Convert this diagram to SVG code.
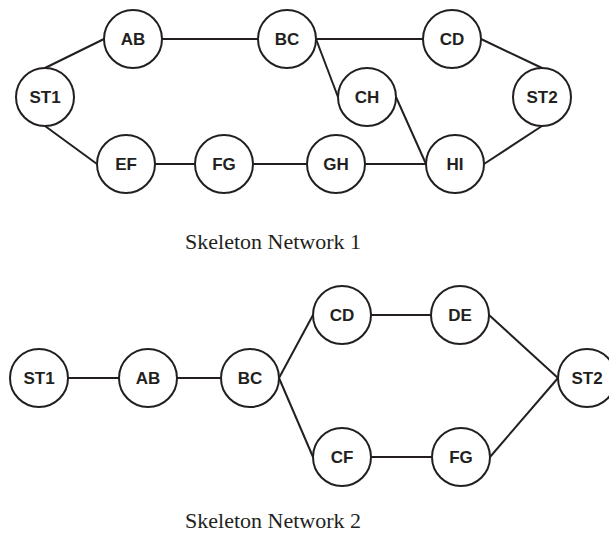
<svg xmlns="http://www.w3.org/2000/svg" width="609" height="534" viewBox="0 0 609 534">
<style>
.n circle{fill:#fff;stroke:#231f20;stroke-width:2}
.n text{font-family:"Liberation Sans",Arial,sans-serif;font-weight:bold;font-size:17px;fill:#231f20;text-anchor:middle}
#edges line{stroke:#231f20;stroke-width:2;fill:none}
.cap{font-family:"Liberation Serif","Times New Roman",serif;font-size:22px;fill:#231f20;text-anchor:middle}
</style>
<rect width="609" height="534" fill="#fff"/>
<g id="edges">
<line x1="45" y1="68" x2="104" y2="39"/>
<line x1="162" y1="39" x2="258" y2="39"/>
<line x1="316" y1="39" x2="423" y2="39"/>
<line x1="316" y1="39" x2="338" y2="97"/>
<line x1="481" y1="39" x2="542" y2="68"/>
<line x1="45" y1="126" x2="97" y2="164"/>
<line x1="155" y1="164" x2="195" y2="164"/>
<line x1="253" y1="164" x2="307" y2="164"/>
<line x1="365" y1="164" x2="426" y2="164"/>
<line x1="396" y1="97" x2="426" y2="164"/>
<line x1="484" y1="164" x2="542" y2="126"/>
<line x1="68" y1="378" x2="119" y2="378"/>
<line x1="177" y1="378" x2="221" y2="378"/>
<line x1="279" y1="378" x2="313" y2="315"/>
<line x1="279" y1="378" x2="313" y2="457"/>
<line x1="371" y1="315" x2="431" y2="315"/>
<line x1="371" y1="457" x2="432" y2="457"/>
<line x1="489" y1="315" x2="558" y2="378"/>
<line x1="490" y1="457" x2="558" y2="378"/>
</g>
<g id="n1-AB" class="n"><circle cx="133" cy="39" r="29"/><text x="133" y="45">AB</text></g>
<g id="n1-BC" class="n"><circle cx="287" cy="39" r="29"/><text x="287" y="45">BC</text></g>
<g id="n1-CD" class="n"><circle cx="452" cy="39" r="29"/><text x="452" y="45">CD</text></g>
<g id="n1-ST1" class="n"><circle cx="45" cy="97" r="29"/><text x="45" y="103">ST1</text></g>
<g id="n1-CH" class="n"><circle cx="367" cy="97" r="29"/><text x="367" y="103">CH</text></g>
<g id="n1-ST2" class="n"><circle cx="542" cy="97" r="29"/><text x="542" y="103">ST2</text></g>
<g id="n1-EF" class="n"><circle cx="126" cy="164" r="29"/><text x="126" y="170">EF</text></g>
<g id="n1-FG" class="n"><circle cx="224" cy="164" r="29"/><text x="224" y="170">FG</text></g>
<g id="n1-GH" class="n"><circle cx="336" cy="164" r="29"/><text x="336" y="170">GH</text></g>
<g id="n1-HI" class="n"><circle cx="455" cy="164" r="29"/><text x="455" y="170">HI</text></g>
<g id="n2-ST1" class="n"><circle cx="39" cy="378" r="29"/><text x="39" y="384">ST1</text></g>
<g id="n2-AB" class="n"><circle cx="148" cy="378" r="29"/><text x="148" y="384">AB</text></g>
<g id="n2-BC" class="n"><circle cx="250" cy="378" r="29"/><text x="250" y="384">BC</text></g>
<g id="n2-CD" class="n"><circle cx="342" cy="315" r="29"/><text x="342" y="321">CD</text></g>
<g id="n2-DE" class="n"><circle cx="460" cy="315" r="29"/><text x="460" y="321">DE</text></g>
<g id="n2-ST2" class="n"><circle cx="587" cy="378" r="29"/><text x="587" y="384">ST2</text></g>
<g id="n2-CF" class="n"><circle cx="342" cy="457" r="29"/><text x="342" y="463">CF</text></g>
<g id="n2-FG" class="n"><circle cx="461" cy="457" r="29"/><text x="461" y="463">FG</text></g>
<text class="cap" x="273" y="249">Skeleton Network 1</text>
<text class="cap" x="273" y="528">Skeleton Network 2</text>
</svg>
